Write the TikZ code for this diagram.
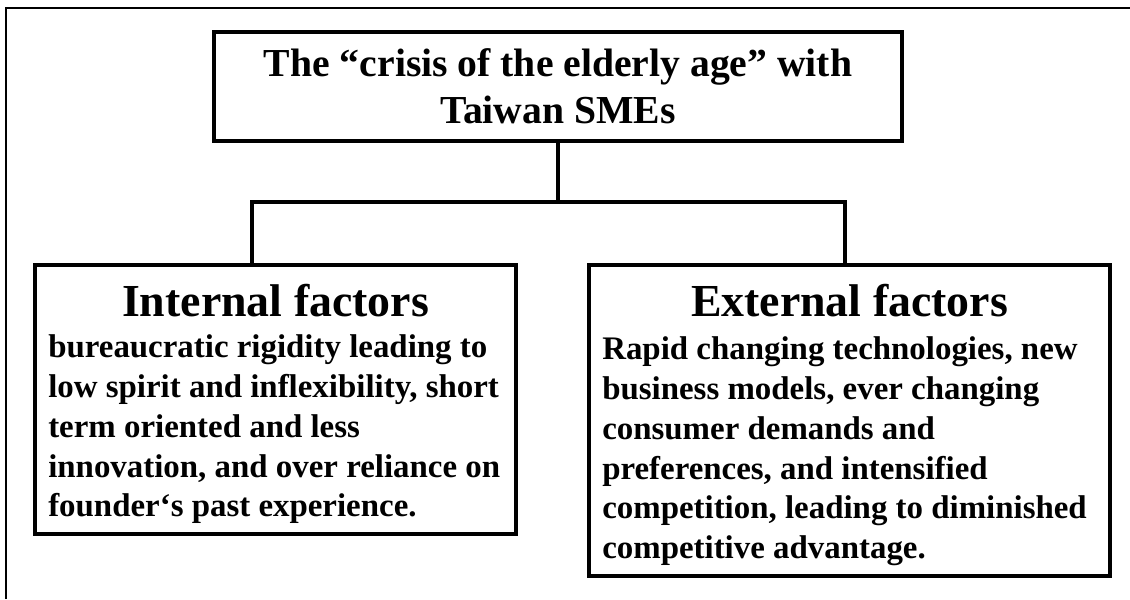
\documentclass[tikz,border=0pt]{standalone}
\usepackage{fontspec}
\setmainfont{Liberation Serif}
\usetikzlibrary{positioning,calc}

\begin{document}
\begin{tikzpicture}[x=0.025cm, y=-0.025cm,
    box/.style={rectangle, draw=black, line width=2.8pt, inner sep=0pt},
    link/.style={draw=black, line width=2.8pt, line join=miter},
    titletext/.style={font=\bfseries\fontsize{28.2}{33.3}\selectfont, inner sep=0pt, anchor=north, align=center},
    head/.style={font=\bfseries\fontsize{32.6}{38}\selectfont, inner sep=0pt, anchor=base},
    body/.style={font=\bfseries\fontsize{23.4}{28.3}\selectfont, inner sep=0pt, anchor=north west, align=left}]
  \useasboundingbox (0,0) rectangle (1130,599);
  \draw[line width=1pt] (6,599) -- (6,8) -- (1130,8);

  % boxes
  \node[box, minimum width=17.2cm, minimum height=2.725cm] (top) at (558,86.5) {};
  \node[box, minimum width=12.025cm, minimum height=6.725cm] (lbox) at (275.5,399.5) {};
  \node[box, minimum width=13.025cm, minimum height=7.775cm] (rbox) at (849.5,420.5) {};

  % texts
  \node[titletext] (toptext) at (558,48.5) {The “crisis of the elderly age” with\\Taiwan SMEs};
  \node[head] (lhead) at (275.5,316) {Internal factors};
  \node[head] (rhead) at (849.5,316) {External factors};
  \node[body] (ltext) at (48,334.5) {bureaucratic rigidity leading to\\low spirit and inflexibility, short\\term oriented and less\\innovation, and over reliance on\\founder‘s past experience.};
  \node[body] (rtext) at (602,336.5) {Rapid changing technologies, new\\business models, ever changing\\consumer demands and\\preferences, and intensified\\competition, leading to diminished\\competitive advantage.};

  % connectors
  \coordinate (tj) at (558,202);
  \coordinate (lj) at (252,202);
  \coordinate (rj) at (845,202);
  \draw[link] (top.south) -- (tj);
  \draw[link] (lbox.north -| lj) -- (lj) -- (rj) -- (rbox.north -| rj);
\end{tikzpicture}
\end{document}
